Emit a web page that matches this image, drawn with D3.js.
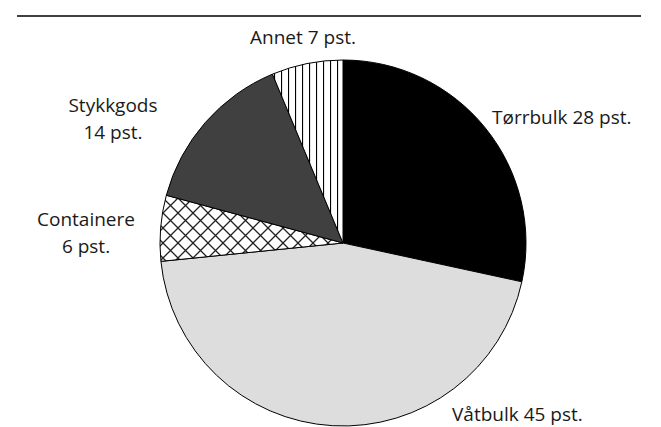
<!DOCTYPE html>
<html><head><meta charset="utf-8">
<script src="https://cdn.jsdelivr.net/npm/d3@7"></script>
<style>body{margin:0;background:#fff}svg{display:block}text{font-family:"Open Sans",sans-serif;font-size:19px;fill:#1a1a1a}</style>
</head><body>
<script>
const categories = ["Tørrbulk", "Våtbulk", "Containere", "Stykkgods", "Annet"];
const values = [28.4, 45.0, 5.8, 14.5, 6.3];
const labelLines = [["Tørrbulk 28 pst."], ["Våtbulk 45 pst."], ["Containere", "6 pst."], ["Stykkgods", "14 pst."], ["Annet 7 pst."]];
const fills = ["#000000", "#dddddd", "url(#cross)", "#404040", "url(#vlines)"];

const W = 661, H = 427;
const svg = d3.select("body").append("svg").attr("width", W).attr("height", H);
const defs = svg.append("defs");
const vl = defs.append("pattern").attr("id", "vlines").attr("patternUnits", "userSpaceOnUse")
  .attr("width", 7).attr("height", 10).attr("x", 1);
vl.append("rect").attr("width", 7).attr("height", 10).attr("fill", "#fff");
vl.append("line").attr("x1", 0.5).attr("x2", 0.5).attr("y1", 0).attr("y2", 10).attr("stroke", "#000").attr("stroke-width", 1.2);
const cr = defs.append("pattern").attr("id", "cross").attr("patternUnits", "userSpaceOnUse")
  .attr("width", 15).attr("height", 15);
cr.append("rect").attr("width", 15).attr("height", 15).attr("fill", "#fff");
cr.append("path").attr("d", "M0,0L15,15M15,0L0,15M-1,14L1,16M14,-1L16,1M-1,1L1,-1M14,16L16,14").attr("stroke", "#222").attr("stroke-width", 1.3);

svg.append("line").attr("x1", 17).attr("x2", 641).attr("y1", 16).attr("y2", 16).attr("stroke", "#000").attr("stroke-width", 1.5);

const cx = 343, cy = 243, r = 183;
const pie = d3.pie().sort(null).value(d => d)(values);
const arc = d3.arc().innerRadius(0).outerRadius(r);
const g = svg.append("g").attr("transform", `translate(${cx},${cy})`);
g.selectAll("path").data(pie).join("path").attr("d", arc)
  .attr("fill", (d, i) => fills[i]).attr("stroke", "#000").attr("stroke-width", 1);

const labelPos = [[492, 124, "start"], [452, 421, "start"], [86, 226, "middle"], [113, 112, "middle"], [303, 44, "middle"]];
labelLines.forEach((lines, i) => {
  const [x, y, a] = labelPos[i];
  const t = svg.append("text").attr("x", x).attr("y", y).attr("text-anchor", a);
  lines.forEach((l, j) => t.append("tspan").attr("x", x).attr("dy", j ? 27 : 0).text(l));
});
</script>
</body></html>
